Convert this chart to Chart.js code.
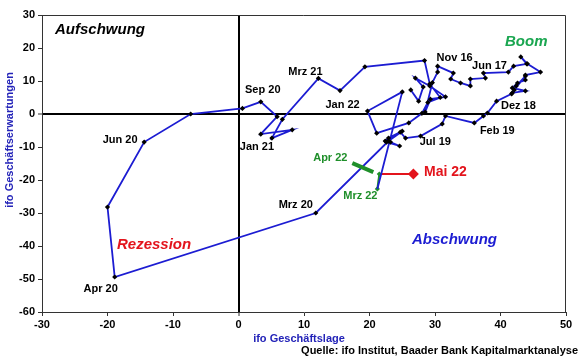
<!DOCTYPE html>
<html>
<head>
<meta charset="utf-8">
<script src="https://cdn.jsdelivr.net/npm/chart.js@4.4.1/dist/chart.umd.min.js"></script>
<style>
  body { margin: 0; background: #fff; }
</style>
</head>
<body>
<canvas id="c" width="580" height="359"></canvas>
<script>
// ifo Konjunkturuhr, Jan 16 - Mai 22
const months = [
  'Jan 16','Feb 16','Mrz 16','Apr 16','Mai 16','Jun 16','Jul 16','Aug 16','Sep 16','Okt 16','Nov 16','Dez 16',
  'Jan 17','Feb 17','Mrz 17','Apr 17','Mai 17','Jun 17','Jul 17','Aug 17','Sep 17','Okt 17','Nov 17','Dez 17',
  'Jan 18','Feb 18','Mrz 18','Apr 18','Mai 18','Jun 18','Jul 18','Aug 18','Sep 18','Okt 18','Nov 18','Dez 18',
  'Jan 19','Feb 19','Mrz 19','Apr 19','Mai 19','Jun 19','Jul 19','Aug 19','Sep 19','Okt 19','Nov 19','Dez 19',
  'Jan 20','Feb 20','Mrz 20','Apr 20','Mai 20','Jun 20','Jul 20','Aug 20','Sep 20','Okt 20','Nov 20','Dez 20',
  'Jan 21','Feb 21','Mrz 21','Apr 21','Mai 21','Jun 21','Jul 21','Aug 21','Sep 21','Okt 21','Nov 21','Dez 21',
  'Jan 22','Feb 22','Mrz 22','Apr 22','Mai 22'
];
// ifo Geschäftslage (x)
const lage = [
  26.3, 27.5, 28.2, 27.0, 29.2, 31.6, 29.3, 28.5, 29.6, 30.4, 30.4, 32.8,
  32.4, 33.9, 35.4, 35.4, 37.7, 37.4, 41.2, 42.0, 44.0, 43.1, 44.1, 46.1,
  43.8, 43.8, 42.6, 41.8, 43.8, 41.8, 42.4, 43.8, 42.1, 41.7, 39.4, 38.0,
  37.4, 36.0, 31.6, 31.1, 27.8, 25.5, 24.7, 22.6, 24.6, 23.2, 22.4, 22.9,
  25.0, 22.9, 11.8, -18.9, -20.0, -14.4, -7.3, 0.6, 3.4, 5.9, 3.4, 8.2,
  5.1, 6.7, 12.2, 15.5, 19.3, 28.4, 29.2, 30.8, 28.9, 28.0, 26.0, 21.1,
  19.7, 25.0, 21.2, 21.5, 26.7
];
// ifo Geschäftserwartungen (y)
const erwartungen = [
  7.3, 3.9, 8.2, 10.9, 8.5, 5.2, 4.5, 0.6, 9.5, 12.7, 14.5, 12.4,
  10.6, 9.4, 8.5, 10.6, 10.9, 12.4, 12.7, 14.5, 15.2, 17.3, 15.2, 12.7,
  11.8, 10.3, 9.4, 7.9, 7.0, 6.4, 8.5, 11.5, 7.3, 6.1, 3.9, 0.3,
  -0.6, -2.7, -0.6, -3.0, -6.7, -7.3, -5.5, -8.5, -9.7, -8.5, -8.2, -7.3,
  -5.2, -8.2, -30.0, -49.4, -28.2, -8.5, 0.0, 1.7, 3.7, -0.8, -6.1, -4.8,
  -7.3, -1.6, 10.8, 7.1, 14.3, 16.2, 9.1, 5.0, 3.5, 0.2, -2.7, -5.8,
  0.9, 6.7, -22.7, -18.2, -18.2
];
const xTicks = [-30, -20, -10, 0, 10, 20, 30, 40, 50];
const yTicks = [-60, -50, -40, -30, -20, -10, 0, 10, 20, 30];

const BLUE = '#1c1cd2';
const GREEN = '#1f8f2a';
const RED = '#e3141c';
const FONT = "'Liberation Sans', Arial, sans-serif";

const pts = months.map((m, i) => ({ x: lage[i], y: erwartungen[i] }));
const last = months.length - 1;

// labelled points: month, offset of label centre from point, colour, size
const callouts = [
  ['Nov 16', 17, -8, '#000', 11],
  ['Jun 17', 6, -7, '#000', 11],
  ['Dez 18', 31, -7, '#000', 11],
  ['Feb 19', 23, 8, '#000', 11],
  ['Jul 19', 35, 10, '#000', 11],
  ['Jan 22', -25, -6, '#000', 11],
  ['Mrz 21', -13, -6, '#000', 11],
  ['Sep 20', 2, -12, '#000', 11],
  ['Jan 21', -15, 9, '#000', 11],
  ['Jun 20', -24, -2, '#000', 11],
  ['Apr 20', -14, 12, '#000', 11],
  ['Mrz 20', -20, -8, '#000', 11],
  ['Apr 22', -49, -16, GREEN, 11],
  ['Mrz 22', -17, 7, GREEN, 11],
  ['Mai 22', 32, -2, RED, 14]
];

const overlay = {
  id: 'overlay',
  afterDatasetsDraw(chart) {
    const { ctx, chartArea: a, scales: { x, y } } = chart;
    ctx.save();
    // top and right frame
    ctx.strokeStyle = '#333';
    ctx.lineWidth = 1;
    ctx.beginPath();
    ctx.moveTo(a.left, a.top + 0.5);
    ctx.lineTo(a.right - 0.5, a.top + 0.5);
    ctx.lineTo(a.right - 0.5, a.bottom);
    ctx.stroke();

    // pointer for Apr 22
    const ia = months.indexOf('Apr 22');
    const ax = x.getPixelForValue(lage[ia]), ay = y.getPixelForValue(erwartungen[ia]);
    ctx.strokeStyle = GREEN;
    ctx.lineWidth = 4;
    ctx.beginPath();
    ctx.moveTo(ax - 27, ay - 11);
    ctx.lineTo(ax - 6, ay - 2);
    ctx.stroke();

    ctx.textAlign = 'center';
    ctx.textBaseline = 'middle';
    callouts.forEach(([m, dx, dy, col, size]) => {
      const i = months.indexOf(m);
      const px = x.getPixelForValue(lage[i]), py = y.getPixelForValue(erwartungen[i]);
      ctx.fillStyle = col;
      ctx.font = 'bold ' + size + 'px ' + FONT;
      ctx.fillText(m, px + dx, py + dy);
    });

    // quadrant names
    ctx.font = 'italic bold 15px ' + FONT;
    ctx.textAlign = 'left';
    ctx.fillStyle = '#000';
    ctx.fillText('Aufschwung', a.left + 13, a.top + 15);
    ctx.fillStyle = '#1aa650';
    ctx.fillText('Boom', a.left + 463, a.top + 27);
    ctx.fillStyle = RED;
    ctx.fillText('Rezession', a.left + 75, a.top + 230);
    ctx.fillStyle = BLUE;
    ctx.fillText('Abschwung', a.left + 370, a.top + 225);

    // axis titles and source
    ctx.font = 'bold 11px ' + FONT;
    ctx.fillStyle = '#2323b8';
    ctx.textAlign = 'center';
    ctx.fillText('ifo Geschäftslage', 299, 339);
    ctx.save();
    ctx.translate(10, 140);
    ctx.rotate(-Math.PI / 2);
    ctx.fillText('ifo Geschäftserwartungen', 0, 0);
    ctx.restore();
    ctx.fillStyle = '#000';
    ctx.textAlign = 'right';
    ctx.fillText('Quelle: ifo Institut, Baader Bank Kapitalmarktanalyse', 578, 351);
    ctx.restore();
  }
};

const zeroGrid = {
  drawOnChartArea: true,
  color: c => (c.tick && c.tick.value === 0 ? '#000' : 'rgba(0,0,0,0)'),
  lineWidth: c => (c.tick && c.tick.value === 0 ? 2 : 1),
  tickColor: '#333',
  tickWidth: 1,
  tickLength: 4
};

new Chart(document.getElementById('c'), {
  type: 'scatter',
  data: {
    datasets: [
      {
        data: pts.slice(0, last - 1),
        showLine: true,
        borderColor: BLUE,
        borderWidth: 1.8,
        pointStyle: 'rectRot',
        pointRadius: pts.slice(0, last - 1).map((p, i) => (i === last - 2 ? 0 : 2.6)),
        pointBackgroundColor: '#000',
        pointBorderWidth: 0
      },
      {
        data: pts.slice(last - 2, last),
        showLine: true,
        borderColor: GREEN,
        borderWidth: 2,
        pointStyle: 'rectRot',
        pointRadius: 2.6,
        pointBackgroundColor: GREEN,
        pointBorderWidth: 0
      },
      {
        data: pts.slice(last - 1),
        showLine: true,
        borderColor: RED,
        borderWidth: 2,
        pointStyle: 'rectRot',
        pointRadius: [0, 5.5],
        pointBackgroundColor: RED,
        pointBorderWidth: 0
      }
    ]
  },
  options: {
    responsive: false,
    maintainAspectRatio: false,
    animation: false,
    layout: { padding: { top: 15, right: 14, left: 0, bottom: 0 } },
    plugins: { legend: { display: false }, tooltip: { enabled: false } },
    scales: {
      x: {
        type: 'linear',
        min: xTicks[0],
        max: xTicks[xTicks.length - 1],
        afterBuildTicks: s => { s.ticks = xTicks.map(v => ({ value: v })); },
        afterFit: s => { s.height = 47; },
        ticks: { color: '#000', font: { family: FONT, size: 11, weight: 'bold' }, padding: 2 },
        grid: zeroGrid,
        border: { color: '#333', width: 1 }
      },
      y: {
        type: 'linear',
        min: yTicks[0],
        max: yTicks[yTicks.length - 1],
        afterBuildTicks: s => { s.ticks = yTicks.map(v => ({ value: v })); },
        afterFit: s => { s.width = 42; },
        ticks: { color: '#000', font: { family: FONT, size: 11, weight: 'bold' }, padding: 3 },
        grid: zeroGrid,
        border: { color: '#333', width: 1 }
      }
    }
  },
  plugins: [overlay]
});
</script>
</body>
</html>
